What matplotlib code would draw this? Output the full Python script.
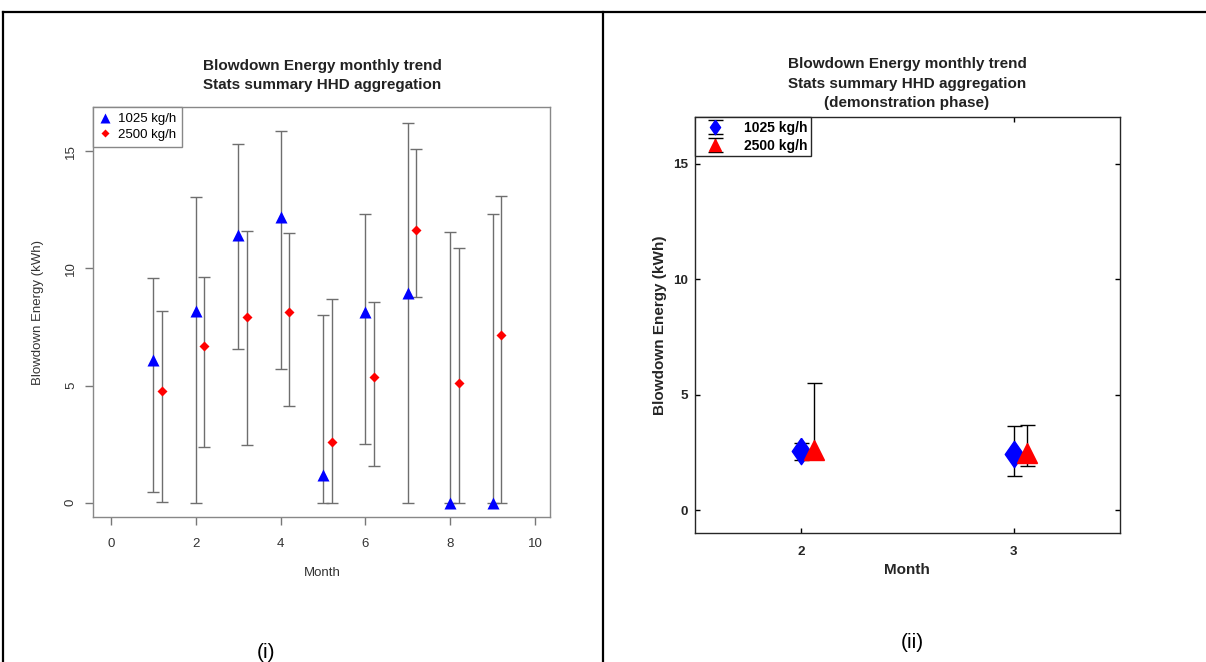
import matplotlib
matplotlib.use("Agg")
import matplotlib.pyplot as plt
from matplotlib.lines import Line2D
import numpy as np

plt.rcParams['font.family'] = ['Liberation Sans', 'DejaVu Sans']

# ---- panel (i): all months, R-style plot
months = np.arange(1, 10)
e1025_mean = [6.1, 8.2, 11.45, 12.2, 1.2, 8.15, 8.95, 0.0, 0.0]
e1025_low = [0.47, 0.0, 6.57, 5.7, 0.0, 2.53, 0.0, 0.0, 0.0]
e1025_high = [9.6, 13.05, 15.3, 15.86, 8.0, 12.32, 16.2, 11.57, 12.32]
e2500_mean = [4.75, 6.7, 7.95, 8.15, 2.6, 5.35, 11.65, 5.1, 7.15]
e2500_low = [0.04, 2.4, 2.45, 4.13, 0.0, 1.55, 8.8, 0.0, 0.0]
e2500_high = [8.17, 9.62, 11.6, 11.52, 8.68, 8.55, 15.1, 10.86, 13.1]

# ---- panel (ii): demonstration phase
demo_months = [2, 3]
d1025_mean = [2.55, 2.41]
d1025_low = [2.19, 1.46]
d1025_high = [2.89, 3.63]
d2500_mean = [2.62, 2.47]
d2500_low = [2.25, 1.92]
d2500_high = [5.52, 3.67]

W, H = 1206, 662
fig = plt.figure(figsize=(W / 100, H / 100), dpi=100)


def fx(x):
    return x / W


def fy(y):
    return 1 - y / H


def yerr(mean, low, high):
    m = np.array(mean)
    return [m - np.array(low), np.array(high) - m]


# frame lines of the table
for xs, ys in [([3, 1206], [12, 12]), ([3.5, 3.5], [12, 662]), ([603, 603], [12, 662])]:
    fig.add_artist(Line2D([fx(v) for v in xs], [fy(v) for v in ys], color='black', lw=1.6))

# ---------------- left panel ----------------
ax1 = fig.add_axes([fx(93.3), fy(517.3), fx(550.3 - 93.3), (517.3 - 107.3) / H])
grey = '#6e6e6e'
m = np.array(months, dtype=float)
ax1.errorbar(m, e1025_mean, yerr=yerr(e1025_mean, e1025_low, e1025_high), fmt='none',
             ecolor=grey, elinewidth=1, capsize=4.2, capthick=1, zorder=1)
ax1.errorbar(m + 0.2, e2500_mean, yerr=yerr(e2500_mean, e2500_low, e2500_high), fmt='none',
             ecolor=grey, elinewidth=1, capsize=4.2, capthick=1, zorder=1)
ax1.plot(m, e1025_mean, '^', color='#0000ff', ms=8.5, mec='none', zorder=3)
ax1.plot(m + 0.2, e2500_mean, 'D', color='#ff0000', ms=4.6, mec='none', zorder=3)

ax1.set_xlim(-0.42, 10.36)
ax1.set_ylim(-0.62, 16.88)
ax1.set_xticks([0, 2, 4, 6, 8, 10])
ax1.set_yticks([0, 5, 10, 15])
for s in ax1.spines.values():
    s.set_color('#888888')
    s.set_linewidth(1)
ax1.tick_params(axis='both', direction='out', length=5.8, width=1, color='#777777',
                labelsize=9.5, labelcolor='#333333')
ax1.tick_params(axis='x', pad=9)
ax1.tick_params(axis='y', pad=6)
for lab in ax1.get_yticklabels():
    lab.set_rotation(90)
    lab.set_va('center')

fig.text(fx(322), fy(66), 'Blowdown Energy monthly trend', ha='center', va='center',
         fontsize=11, fontweight='bold', color='#222222')
fig.text(fx(322), fy(85), 'Stats summary HHD aggregation', ha='center', va='center',
         fontsize=11, fontweight='bold', color='#222222')
fig.text(fx(322), fy(573), 'Month', ha='center', va='center', fontsize=9.5, color='#333333')
fig.text(fx(38), fy(312), 'Blowdown Energy (kWh)', ha='center', va='center', rotation=90,
         fontsize=9.5, color='#333333')

h1 = [Line2D([], [], marker='^', ls='none', color='#0000ff', ms=6.5, mec='none'),
      Line2D([], [], marker='D', ls='none', color='#ff0000', ms=3.6, mec='none')]
leg1 = ax1.legend(h1, ['1025 kg/h', '2500 kg/h'], loc='upper left', borderaxespad=0,
                  fancybox=False, framealpha=1, edgecolor='#888888', fontsize=9.5,
                  handlelength=0.9, handletextpad=0.5, borderpad=0.45, labelspacing=0.25)
leg1.get_frame().set_linewidth(1)

# ---------------- right panel ----------------
ax2 = fig.add_axes([fx(695), fy(533.3), fx(1120 - 695), (533.3 - 117.3) / H])
diamond = [(0, 1), (0.7, 0), (0, -1), (-0.7, 0), (0, 1)]
dm = np.array(demo_months, dtype=float)
ax2.errorbar(dm, d1025_mean, yerr=yerr(d1025_mean, d1025_low, d1025_high),
             marker=diamond, ms=19, ls='none', color='#0000ff', mec='#0000ff',
             ecolor='black', elinewidth=1, capsize=5.4, capthick=1, label='1025 kg/h')
ax2.errorbar(dm + 0.06, d2500_mean, yerr=yerr(d2500_mean, d2500_low, d2500_high),
             marker='^', ms=15, ls='none', color='#ff0000', mec='#ff0000',
             ecolor='black', elinewidth=1, capsize=5.4, capthick=1, label='2500 kg/h')

ax2.set_xlim(1.5, 3.5)
ax2.set_ylim(-1, 17)
ax2.set_xticks([2, 3])
ax2.set_yticks([0, 5, 10, 15])
for s in ax2.spines.values():
    s.set_color('#262626')
    s.set_linewidth(1)
ax2.tick_params(axis='both', direction='in', length=3.5, width=1, top=True, right=True,
                labelsize=9.7, labelcolor='#262626')
ax2.tick_params(axis='x', pad=9)
ax2.tick_params(axis='y', pad=5)
for lab in ax2.get_xticklabels() + ax2.get_yticklabels():
    lab.set_fontweight('bold')

for yy, t in [(64, 'Blowdown Energy monthly trend'), (84, 'Stats summary HHD aggregation'),
              (103, '(demonstration phase)')]:
    fig.text(fx(907), fy(yy), t, ha='center', va='center', fontsize=11,
             fontweight='bold', color='#222222')
fig.text(fx(907), fy(570), 'Month', ha='center', va='center', fontsize=11,
         fontweight='bold', color='#262626')
fig.text(fx(660), fy(325), 'Blowdown Energy (kWh)', ha='center', va='center', rotation=90,
         fontsize=11, fontweight='bold', color='#262626')

leg2 = ax2.legend(loc='upper left', borderaxespad=0, fancybox=False, framealpha=1,
                  edgecolor='#262626', markerscale=0.55, handlelength=2.4,
                  handletextpad=0.9, borderpad=0.25, labelspacing=0.3,
                  prop={'weight': 'bold', 'size': 10})
leg2.get_frame().set_linewidth(1)

# panel captions
fig.text(fx(266), fy(652), '(i)', ha='center', va='center', fontsize=15)
fig.text(fx(912), fy(643), '(ii)', ha='center', va='center', fontsize=15)

fig.savefig('out.png', dpi=100)
